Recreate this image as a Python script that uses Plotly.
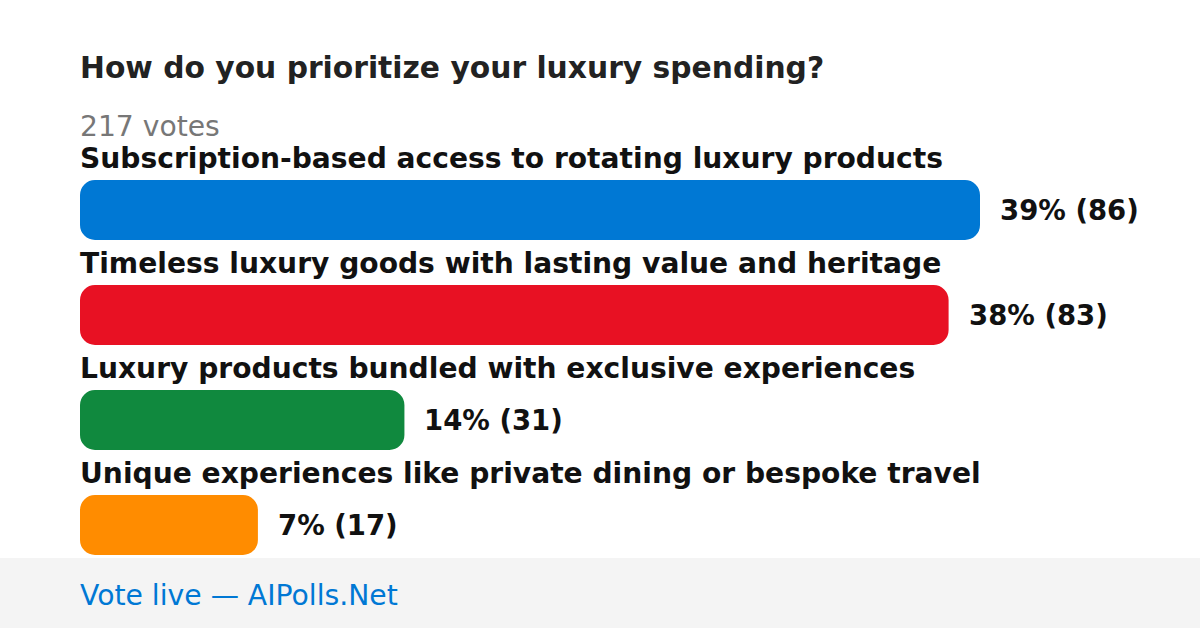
import plotly.graph_objects as go

title = "How do you prioritize your luxury spending?"
subtitle = "217 votes"
footer = "Vote live — AIPolls.Net"
options = [
    "Subscription-based access to rotating luxury products",
    "Timeless luxury goods with lasting value and heritage",
    "Luxury products bundled with exclusive experiences",
    "Unique experiences like private dining or bespoke travel",
]
votes = [86, 83, 31, 17]
percents = [39, 38, 14, 7]
colors = ["#0078d4", "#e81123", "#10893e", "#ff8c00"]

W, H = 1200, 628
FONT = "DejaVu Sans"
ypos = list(range(len(options)))

fig = go.Figure()
fig.add_trace(go.Bar(
    x=votes, base=[0] * len(votes), y=ypos, orientation="h",
    marker=dict(color=colors, line=dict(width=0)),
    hoverinfo="skip", width=60/105,
))

x_dom = [80 / W, 980 / W]
y_dom = [1 - 577.5 / H, 1 - 157.5 / H]

annotations = []
for i, (opt, v, p) in enumerate(zip(options, votes, percents)):
    annotations.append(dict(
        x=0, y=i - 0.49, xref="x", yref="y", text=opt, showarrow=False,
        xanchor="left", yanchor="middle", xshift=-2,
        font=dict(family=FONT, size=28.15, color="#111111", weight="bold"),
    ))
    annotations.append(dict(
        x=v, y=i, xref="x", yref="y", text=f"{p}% ({v})", showarrow=False,
        xanchor="left", yanchor="middle", xshift=18,
        font=dict(family=FONT, size=27.5, color="#111111", weight="bold"),
    ))

annotations.append(dict(
    x=80 / W, y=1 - 68 / H, xref="paper", yref="paper", text=title,
    showarrow=False, xanchor="left", yanchor="middle", xshift=-2,
    font=dict(family=FONT, size=29.75, color="#222222", weight="bold"),
))
annotations.append(dict(
    x=80 / W, y=1 - 126 / H, xref="paper", yref="paper", text=subtitle,
    showarrow=False, xanchor="left", yanchor="middle", xshift=-2,
    font=dict(family=FONT, size=28.2, color="#777777"),
))
annotations.append(dict(
    x=80 / W, y=1 - 595 / H, xref="paper", yref="paper", text=footer,
    showarrow=False, xanchor="left", yanchor="middle", xshift=-2,
    font=dict(family=FONT, size=28.25, color="#0078d4"),
))

fig.update_layout(
    width=W, height=H,
    margin=dict(l=0, r=0, t=0, b=0),
    paper_bgcolor="white", plot_bgcolor="white",
    showlegend=False,
    barcornerradius=15,
    xaxis=dict(domain=x_dom, range=[0, max(votes)], visible=False, fixedrange=True),
    yaxis=dict(domain=y_dom, range=[len(options) - 0.5, -0.5], visible=False, fixedrange=True),
    annotations=annotations,
    shapes=[dict(type="rect", xref="paper", yref="paper", x0=0, x1=1,
                 y0=0, y1=70 / H, fillcolor="#f4f4f4", line=dict(width=0), layer="below")],
)

fig.write_html("out.html", post_script="document.body.style.margin='0';",
               config={"displayModeBar": False})
